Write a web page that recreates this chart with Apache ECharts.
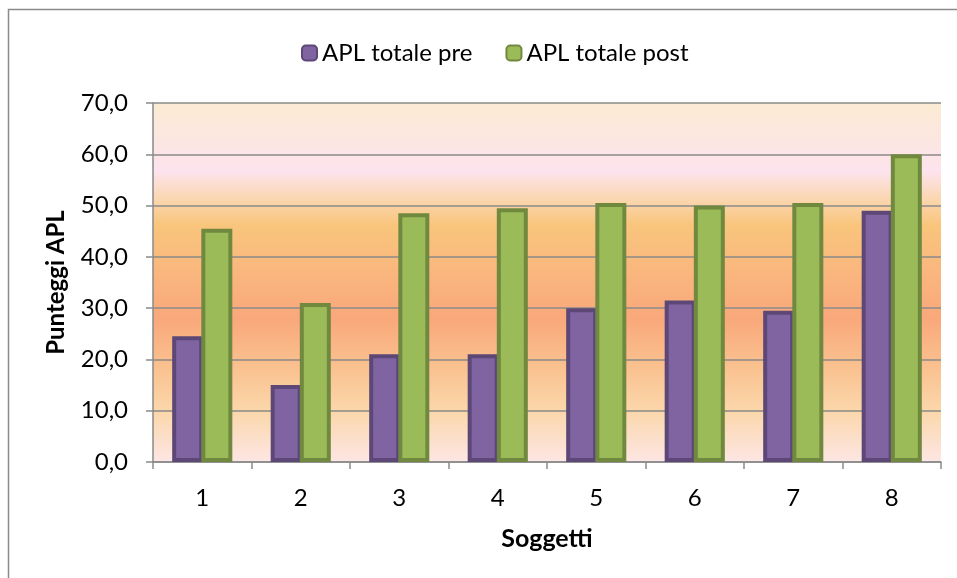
<!DOCTYPE html>
<html>
<head>
<meta charset="utf-8">
<script src="https://cdn.jsdelivr.net/npm/echarts@6/dist/echarts.min.js"></script>
<style>
html,body{margin:0;padding:0;background:#fff;}
#chart{width:957px;height:578px;}
</style>
</head>
<body>
<div id="chart"></div>
<script>
var categories = ['1','2','3','4','5','6','7','8'];
var preValues = [24.5, 15.0, 21.0, 21.0, 30.0, 31.5, 29.5, 49.0];
var postValues = [45.5, 31.0, 48.5, 49.5, 50.5, 50.0, 50.5, 60.0];
var seriesNames = ['APL totale pre', 'APL totale post'];
var yTitle = 'Punteggi APL';
var xTitle = 'Soggetti';

var FONT = 'Lato, "Open Sans", sans-serif';
var chart = echarts.init(document.getElementById('chart'), null, {renderer: 'canvas'});

var bg = new echarts.graphic.LinearGradient(0, 0, 0, 1, [
  {offset: 0.00, color: '#FBEBD3'},
  {offset: 0.11, color: '#FCE6E2'},
  {offset: 0.19, color: '#FDE3EE'},
  {offset: 0.26, color: '#FBD8B6'},
  {offset: 0.34, color: '#F9C57C'},
  {offset: 0.45, color: '#F9B97E'},
  {offset: 0.60, color: '#F9A87B'},
  {offset: 0.74, color: '#FAC290'},
  {offset: 0.86, color: '#FBD7AB'},
  {offset: 1.00, color: '#FDE6E4'}
]);

var option = {
  backgroundColor: '#ffffff',
  animation: false,
  textStyle: {fontFamily: FONT},
  graphic: [{
    type: 'rect',
    shape: {x: 8.5, y: 9.5, width: 960, height: 600},
    style: {fill: 'none', stroke: '#8a8a8a', lineWidth: 1.5},
    silent: true,
    z: -10
  }],
  legend: {
    data: seriesNames,
    left: 296,
    top: 36,
    itemWidth: 15,
    itemHeight: 15,
    itemGap: 33,
    textStyle: {fontFamily: FONT, fontSize: 24, color: '#000'}
  },
  grid: {
    left: 153,
    right: 16,
    top: 103,
    bottom: 116,
    show: true,
    backgroundColor: bg,
    borderWidth: 0
  },
  xAxis: {
    type: 'category',
    data: categories,
    name: xTitle,
    nameLocation: 'middle',
    nameGap: 64,
    nameTextStyle: {fontFamily: FONT, fontSize: 25, fontWeight: 'bold', color: '#000'},
    axisLine: {show: true, lineStyle: {color: '#8a8a8a', width: 1.5}},
    axisTick: {show: true, length: 7, lineStyle: {color: '#8a8a8a', width: 1.5}},
    axisLabel: {fontFamily: FONT, fontSize: 24, color: '#000', margin: 24},
    splitLine: {show: false}
  },
  yAxis: {
    type: 'value',
    min: 0,
    max: 70,
    interval: 10,
    name: yTitle,
    nameLocation: 'middle',
    nameRotate: 90,
    nameGap: 85,
    nameTextStyle: {fontFamily: FONT, fontSize: 24, fontWeight: 'bold', color: '#000'},
    axisLine: {show: true, lineStyle: {color: '#8a8a8a', width: 1.5}},
    axisTick: {show: true, length: 7, lineStyle: {color: '#8a8a8a', width: 1.5}},
    axisLabel: {
      fontFamily: FONT, fontSize: 24, color: '#000', margin: 25,
      formatter: function (v) { return v.toFixed(1).replace('.', ','); }
    },
    splitLine: {show: true, lineStyle: {color: '#8a8a8a', width: 1.5}}
  },
  series: [
    {
      name: seriesNames[0],
      type: 'bar',
      data: preValues,
      barWidth: 31,
      barGap: '-6%',
      itemStyle: {color: '#8064A2', borderColor: '#5C4776', borderWidth: 4}
    },
    {
      name: seriesNames[1],
      type: 'bar',
      data: postValues,
      barWidth: 31,
      barGap: '-6%',
      itemStyle: {color: '#9BBB59', borderColor: '#71893F', borderWidth: 4}
    }
  ]
};
chart.setOption(option);
</script>
</body>
</html>
